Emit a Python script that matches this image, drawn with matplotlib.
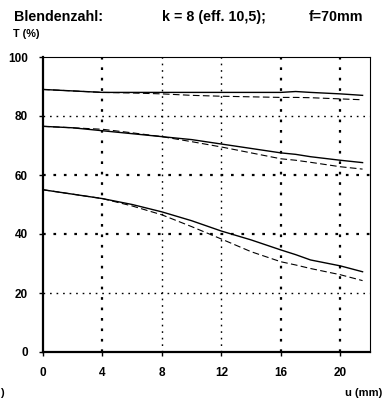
import numpy as np
import matplotlib
matplotlib.use('Agg')
import matplotlib.pyplot as plt

plt.rcParams['font.family'] = ['Liberation Sans', 'DejaVu Sans']

# Bildhöhe u (mm)
u = [0, 2, 4, 6, 8, 10, 12, 14, 16, 17, 18, 20, 21.5]

# obere Kurven
top_solid = [89, 88.5, 88, 88, 88, 88, 88, 88, 88, 88.3, 88, 87.5, 87]
top_dash = [89, 88.5, 88, 87.8, 87.5, 87, 86.7, 86.5, 86.3, 86.3, 86.2, 85.8, 85.5]

# mittlere Kurven
mid_solid = [76.5, 76, 75, 74, 73, 72, 70.5, 69, 67.5, 67, 66.2, 65, 64.2]
mid_dash = [76.5, 76, 75.5, 74.3, 73, 71.3, 69.5, 67.5, 65.5, 65, 64.3, 62.8, 62]

# untere Kurven
low_solid = [55, 53.5, 52, 50, 47.5, 44.5, 41, 38, 34.6, 33, 31.2, 29.2, 27.2]
low_dash = [55, 53.5, 52, 49.5, 46.5, 42.5, 38.3, 34, 30.6, 29.5, 28.3, 26.2, 24.2]

xticks = [0, 4, 8, 12, 16, 20]
yticks = [0, 20, 40, 60, 80, 100]

fig = plt.figure(figsize=(3.85, 4.04), dpi=100)
ax = fig.add_axes([43 / 385, 1 - 352 / 404, 327 / 385, 295 / 404])

for ys in (top_solid, mid_solid, low_solid):
    ax.plot(u, ys, color='black', lw=1.0, solid_joinstyle='round')
for ys in (top_dash, mid_dash, low_dash):
    ax.plot(u, ys, color='black', lw=0.8, dashes=(6, 3))

# Gitterlinien
for xv in [4, 8, 12, 16, 20]:
    w = 1.6 if xv in (4, 16, 20) else 1.0
    ax.axvline(xv, color='black', lw=w, ls=(0, (1.2, 3.5)), zorder=0)
for yv in [20, 40, 60, 80]:
    w = 1.6 if yv in (40, 60) else 1.0
    ax.axhline(yv, color='black', lw=w, ls=(0, (1.2, 3.5)), zorder=0)

ax.set_xlim(0, 22)
ax.set_ylim(0, 100)
ax.set_xticks(xticks)
ax.set_yticks(yticks)
ax.tick_params(axis='both', direction='out', length=3, width=1, labelsize=8.5, pad=8)
for lab in ax.get_xticklabels() + ax.get_yticklabels():
    lab.set_fontweight('bold')
for sp in ['left', 'bottom']:
    ax.spines[sp].set_linewidth(1.6)
for sp in ['top', 'right']:
    ax.spines[sp].set_linewidth(0.8)

fig.text(14 / 385, 1 - 17 / 404, 'Blendenzahl:', fontsize=10.3, fontweight='bold', va='center')
fig.text(162 / 385, 1 - 17 / 404, 'k = 8 (eff. 10,5);', fontsize=10.3, fontweight='bold', va='center')
fig.text(309 / 385, 1 - 17 / 404, 'f=70mm', fontsize=10.3, fontweight='bold', va='center')
fig.text(13 / 385, 1 - 34 / 404, 'T (%)', fontsize=7.8, fontweight='bold', va='center')
fig.text(345 / 385, 1 - 393 / 404, 'u (mm)', fontsize=8, fontweight='bold', va='center')
fig.text(0, 1 - 393 / 404, ')', fontsize=8, fontweight='bold', va='center')

fig.savefig('out.png', dpi=100)
